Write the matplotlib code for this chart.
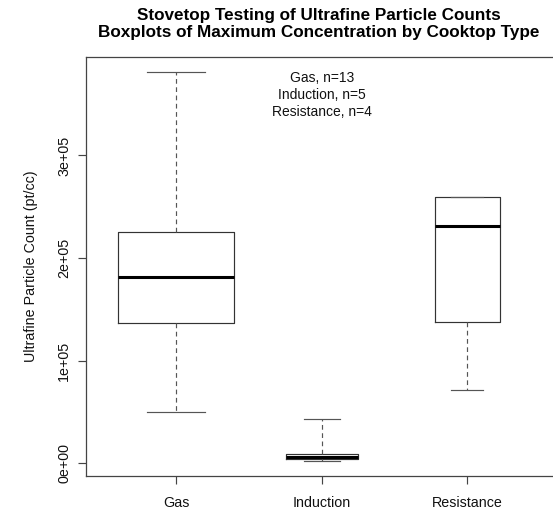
import numpy as np
import matplotlib
matplotlib.use('Agg')
import matplotlib.pyplot as plt

plt.rcParams['font.family'] = ['Liberation Sans', 'DejaVu Sans']

# Данные (значения ящиков)
cooktops = ['Gas', 'Induction', 'Resistance']
n_tests = [13, 5, 4]
whisker_low = [50300, 2500, 71400]
q1 = [137000, 4300, 138000]
medians = [181300, 6600, 231600]
q3 = [225700, 9000, 259300]
whisker_high = [381100, 43200, 259300]
yticks = [0, 100000, 200000, 300000]
ytick_labels = ['0e+00', '1e+05', '2e+05', '3e+05']

stats = []
for i, name in enumerate(cooktops):
    stats.append(dict(label=name, whislo=whisker_low[i], q1=q1[i], med=medians[i],
                      q3=q3[i], whishi=whisker_high[i], fliers=[]))

# ширина ящиков пропорциональна sqrt(n), как varwidth в R
widths = [0.8 * np.sqrt(n / max(n_tests)) for n in n_tests]
capwidths = [w / 2 for w in widths]

fig = plt.figure(figsize=(5.53, 5.11), dpi=100)
ax = fig.add_axes([85.7 / 553, 1 - 476 / 511, 471.9 / 553, 419.3 / 511])

ax.bxp(stats, positions=[1, 2, 3], widths=widths, capwidths=capwidths,
       showfliers=False, patch_artist=False,
       boxprops=dict(color='#333333', linewidth=0.85),
       whiskerprops=dict(color='#555555', linewidth=0.85, linestyle=(0, (4, 3))),
       capprops=dict(color='#555555', linewidth=0.85),
       medianprops=dict(color='black', linewidth=2.2))

ax.set_xlim(0.38, 3.62)
ax.set_ylim(-12400, 396300)
ax.set_yticks(yticks)
ax.set_yticklabels(ytick_labels, rotation=90, va='center')
ax.set_xticks([1, 2, 3])
ax.set_xticklabels(cooktops)
ax.tick_params(axis='both', length=6, width=0.85, color='#444444', labelsize=10.3, labelcolor='#111111')
ax.tick_params(axis='y', pad=4.5)
ax.tick_params(axis='x', pad=8.5)
for sp in ax.spines.values():
    sp.set_color('#444444')
    sp.set_linewidth(0.9)

fig.text(31 / 553, 1 - 266 / 511, 'Ultrafine Particle Count (pt/cc)', rotation=90,
         ha='center', va='center', fontsize=10.3, color='#111111')

ax.text(0.5, (476 - 95) / 419.3, 'Gas, n=13\nInduction, n=5\nResistance, n=4', transform=ax.transAxes,
        ha='center', va='center', fontsize=10, linespacing=1.3, color='#111111', clip_on=False)

fig.text(319 / 553, 1 - 24 / 511,
         'Stovetop Testing of Ultrafine Particle Counts\nBoxplots of Maximum Concentration by Cooktop Type',
         ha='center', va='center', fontsize=12.3, fontweight='bold', linespacing=1.12)

fig.savefig('out.png', dpi=100)
